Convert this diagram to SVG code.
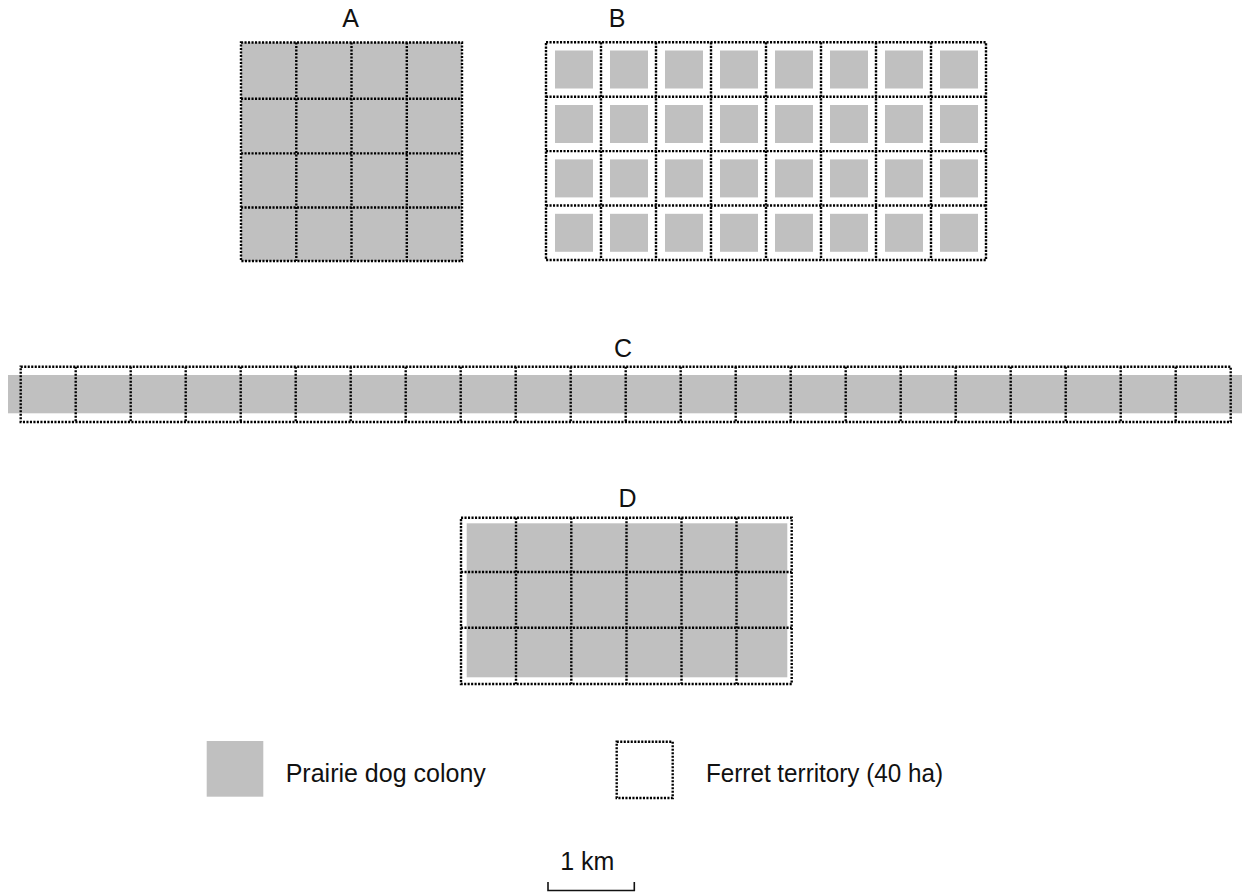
<svg xmlns="http://www.w3.org/2000/svg" width="1242" height="893" viewBox="0 0 1242 893">
<style>
.bg{fill:#ffffff}
.gray{fill:#c0c0c0}
.dot{fill:none;stroke:#000;stroke-width:2.4;stroke-dasharray:2.1 1.4}
.lbl{font-family:"Liberation Sans",Arial,sans-serif;font-size:25px;fill:#111}
.bar{fill:none;stroke:#111;stroke-width:1.6}
</style>
<rect class="bg" x="0" y="0" width="1242" height="893"/>

<g id="panelA">
<text class="lbl" x="350.5" y="27" text-anchor="middle">A</text>
<rect class="gray" x="241" y="42.5" width="221" height="218.5"/>
<rect class="dot" x="241" y="42.5" width="221" height="218.5"/>
<path class="dot" d="M296.3 42.5V261M351.5 42.5V261M406.8 42.5V261M241 98.7H462M241 153.4H462M241 207.5H462"/>
</g>

<g id="panelB">
<text class="lbl" x="617" y="27" text-anchor="middle">B</text>
<g class="gray">
<rect x="555" y="50.5" width="38" height="38"/><rect x="610" y="50.5" width="38" height="38"/><rect x="665" y="50.5" width="38" height="38"/><rect x="720" y="50.5" width="38" height="38"/><rect x="775" y="50.5" width="38" height="38"/><rect x="830" y="50.5" width="38" height="38"/><rect x="885" y="50.5" width="38" height="38"/><rect x="940" y="50.5" width="38" height="38"/>
<rect x="555" y="105" width="38" height="38"/><rect x="610" y="105" width="38" height="38"/><rect x="665" y="105" width="38" height="38"/><rect x="720" y="105" width="38" height="38"/><rect x="775" y="105" width="38" height="38"/><rect x="830" y="105" width="38" height="38"/><rect x="885" y="105" width="38" height="38"/><rect x="940" y="105" width="38" height="38"/>
<rect x="555" y="159.4" width="38" height="38"/><rect x="610" y="159.4" width="38" height="38"/><rect x="665" y="159.4" width="38" height="38"/><rect x="720" y="159.4" width="38" height="38"/><rect x="775" y="159.4" width="38" height="38"/><rect x="830" y="159.4" width="38" height="38"/><rect x="885" y="159.4" width="38" height="38"/><rect x="940" y="159.4" width="38" height="38"/>
<rect x="555" y="213.8" width="38" height="38"/><rect x="610" y="213.8" width="38" height="38"/><rect x="665" y="213.8" width="38" height="38"/><rect x="720" y="213.8" width="38" height="38"/><rect x="775" y="213.8" width="38" height="38"/><rect x="830" y="213.8" width="38" height="38"/><rect x="885" y="213.8" width="38" height="38"/><rect x="940" y="213.8" width="38" height="38"/>
</g>
<rect class="dot" x="546" y="42.3" width="440" height="217.7"/>
<path class="dot" d="M601 42.3V260M656 42.3V260M711 42.3V260M766 42.3V260M821 42.3V260M876 42.3V260M931 42.3V260M546 96.7H986M546 151.1H986M546 205.5H986"/>
</g>

<g id="panelC">
<text class="lbl" x="623" y="356.5" text-anchor="middle">C</text>
<rect class="gray" x="8" y="375" width="1234" height="38.3"/>
<rect class="dot" x="20.7" y="366.7" width="1210" height="55.3"/>
<path class="dot" d="M75.7 366.7V422M130.7 366.7V422M185.7 366.7V422M240.7 366.7V422M295.7 366.7V422M350.7 366.7V422M405.7 366.7V422M460.7 366.7V422M515.7 366.7V422M570.7 366.7V422M625.7 366.7V422M680.7 366.7V422M735.7 366.7V422M790.7 366.7V422M845.7 366.7V422M900.7 366.7V422M955.7 366.7V422M1010.7 366.7V422M1065.7 366.7V422M1120.7 366.7V422M1175.7 366.7V422"/>
</g>

<g id="panelD">
<text class="lbl" x="627.5" y="507" text-anchor="middle">D</text>
<rect class="gray" x="466.7" y="523.3" width="320.6" height="154"/>
<rect class="dot" x="461" y="517.7" width="330.7" height="166.3"/>
<path class="dot" d="M516 517.7V684M571.3 517.7V684M626.5 517.7V684M681.5 517.7V684M736.5 517.7V684M461 572H791.7M461 627.7H791.7"/>
</g>

<g id="legend-colony">
<rect class="gray" x="206.7" y="741" width="56.6" height="55.7"/>
<text class="lbl" x="285.7" y="782">Prairie dog colony</text>
</g>

<g id="legend-territory">
<rect class="dot" x="616.7" y="741.7" width="56" height="56.3"/>
<text class="lbl" x="706" y="782" textLength="237" lengthAdjust="spacingAndGlyphs">Ferret territory (40 ha)</text>
</g>

<g id="scalebar">
<text class="lbl" x="587.3" y="870" text-anchor="middle">1 km</text>
<path class="bar" d="M548 882V890.5H634.3V882"/>
</g>

<g id="connectors"></g>
</svg>
